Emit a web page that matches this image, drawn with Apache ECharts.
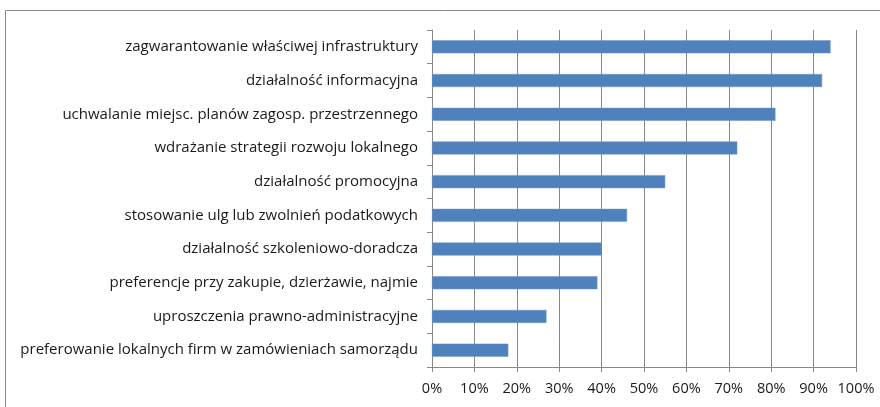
<!DOCTYPE html>
<html>
<head>
<meta charset="utf-8">
<script src="https://cdn.jsdelivr.net/npm/echarts@6/dist/echarts.min.js"></script>
<style>
  html, body { margin: 0; padding: 0; background: #fff; }
  #chart { width: 880px; height: 407px; }
</style>
</head>
<body>
<div id="chart"></div>
<script>
// kategorie od góry do dołu
var categories = [
  'zagwarantowanie właściwej infrastruktury',
  'działalność informacyjna',
  'uchwalanie miejsc. planów zagosp. przestrzennego',
  'wdrażanie strategii rozwoju lokalnego',
  'działalność promocyjna',
  'stosowanie ulg lub zwolnień podatkowych',
  'działalność szkoleniowo-doradcza',
  'preferencje przy zakupie, dzierżawie, najmie',
  'uproszczenia prawno-administracyjne',
  'preferowanie lokalnych firm w zamówieniach samorządu'
];
// wartości w %
var values = [94, 92, 81, 72, 55, 46, 40, 39, 27, 18];

var chart = echarts.init(document.getElementById('chart'));
var option = {
  animation: false,
  textStyle: { fontFamily: 'Open Sans' },
  // ramka wykresu
  graphic: [{
    type: 'rect',
    shape: { x: 5.5, y: 10.5, width: 900, height: 420 },
    style: { fill: 'none', stroke: '#888', lineWidth: 1 },
    silent: true
  }],
  grid: { left: 432, right: 24, top: 30, bottom: 40 },
  xAxis: {
    type: 'value',
    min: 0,
    max: 100,
    interval: 10,
    axisLine: { show: true, lineStyle: { color: '#888' } },
    axisTick: { show: true, length: 5, lineStyle: { color: '#888' } },
    splitLine: { show: true, lineStyle: { color: '#888' } },
    axisLabel: {
      formatter: '{value}%',
      color: '#1a1a1a',
      fontSize: 14.5,
      margin: 14
    }
  },
  yAxis: {
    type: 'category',
    data: categories,
    inverse: true,
    axisLine: { show: true, lineStyle: { color: '#888' } },
    axisTick: { show: true, length: 5, lineStyle: { color: '#888' } },
    axisLabel: { color: '#1a1a1a', fontSize: 15, margin: 14 }
  },
  series: [{
    type: 'bar',
    data: values,
    barWidth: 13,
    itemStyle: { color: '#4F81BD', borderColor: '#6b95c8', borderWidth: 0.5 }
  }]
};
chart.setOption(option);
</script>
</body>
</html>
